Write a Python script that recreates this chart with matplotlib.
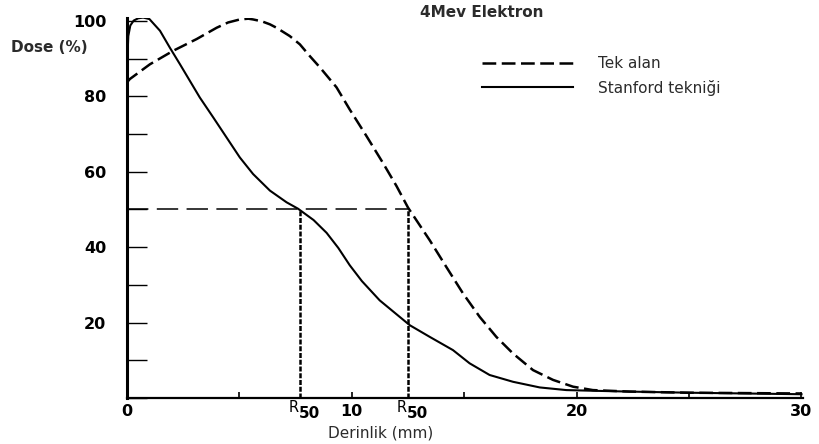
import matplotlib
matplotlib.use("Agg")
import matplotlib.pyplot as plt
import matplotlib.transforms as mtransforms

# depth (mm) / dose (%)
tek_depth = [0, 0.13, 1.02, 2.06, 3.1, 3.99, 4.5, 5.02, 5.4, 5.61, 6.0, 6.36,
             6.65, 7.24, 7.69, 8.13, 8.58, 9.32, 9.91, 10.65, 11.39, 11.99,
             12.5, 13.47, 14.21, 14.95, 15.69, 16.43, 17.17, 18.06, 18.95,
             19.84, 20.72, 22.36, 25, 30]
tek_dose = [83.7, 84.6, 88.5, 92.1, 95.2, 98.2, 99.6, 100.4, 100.6, 100.4,
            99.9, 99.1, 98.2, 96, 93.8, 90.7, 87.7, 82.4, 76.5, 69.5, 62.3,
            56.2, 50.5, 41.8, 34.7, 27.7, 21.5, 16.2, 11.8, 7.4, 4.8, 3.0,
            2.1, 1.7, 1.4, 1.2]

stan_depth = [0, 0.02, 0.06, 0.15, 0.3, 0.5, 0.72, 1.0, 1.47, 1.91, 2.36,
              2.8, 3.24, 3.84, 4.43, 5.02, 5.61, 6.36, 7.1, 7.61, 8.3, 8.88,
              9.4, 9.91, 10.45, 11.24, 12.58, 13.47, 14.5, 15.24, 16.13,
              17.17, 18.36, 19.54, 20.88, 22.36, 25, 30]
stan_dose = [83.7, 90, 96, 98.8, 100.1, 100.7, 100.9, 100.5, 97.4, 92.9,
             88.5, 84.1, 79.7, 74.4, 69.1, 63.8, 59.4, 55.0, 51.9, 50.2, 47.2,
             43.8, 39.8, 35.2, 31.0, 25.9, 19.3, 16.2, 12.7, 9.2, 6.1, 4.3,
             2.8, 2.1, 1.9, 1.7, 1.4, 1.0]

r50_stanford = 7.7
r50_tek = 12.5

fig = plt.figure(figsize=(8.19, 4.44), dpi=100)
ax = fig.add_axes([0.155, 0.1036, 0.825, 0.856])

ax.plot(tek_depth, tek_dose, color='black', lw=1.8, dashes=(5.5, 2.2),
        solid_joinstyle='round', label='Tek alan')
ax.plot(stan_depth, stan_dose, color='black', lw=1.5, solid_joinstyle='round',
        label='Stanford tekniği')

# 50 % construction lines
ax.plot([0, r50_tek], [50, 50], color='black', lw=1.1, dashes=(14, 5.5))
ax.plot([r50_stanford, r50_stanford], [0, 50], color='black', lw=1.8,
        dashes=(2, 0.7))
ax.plot([r50_tek, r50_tek], [0, 50], color='black', lw=1.8, dashes=(2, 0.7))

ax.set_xlim(0, 30.05)
ax.set_ylim(0, 100.8)
for s in ['top', 'right']:
    ax.spines[s].set_visible(False)
ax.spines['left'].set_linewidth(2.2)
ax.spines['bottom'].set_linewidth(1.6)

ax.set_xticks([0, 5, 10, 15, 20, 25, 30])
ax.set_xticklabels(['0', '', '10', '', '20', '', '30'])
ax.set_yticks([0, 10, 20, 30, 40, 50, 60, 70, 80, 90, 100])
ax.set_yticklabels(['', '', '20', '', '40', '', '60', '', '80', '', '100'])
ax.tick_params(axis='y', direction='in', length=14.5, width=1.0, pad=15,
               labelsize=11.5)
ax.tick_params(axis='x', direction='in', length=4.5, width=1.2, pad=4,
               labelsize=11.5)
for lab in ax.get_xticklabels() + ax.get_yticklabels():
    lab.set_fontfamily('DejaVu Sans')
    lab.set_fontweight('bold')

# R50 labels under the axis
trans = mtransforms.blended_transform_factory(ax.transData, ax.transAxes)
for xr in [r50_stanford, r50_tek]:
    ax.text(xr - 0.05, -0.005, 'R', transform=trans, ha='right', va='top',
            fontsize=10.5, family='DejaVu Sans')
    ax.text(xr - 0.05, -0.02, '50', transform=trans, ha='left', va='top',
            fontsize=11, family='DejaVu Sans', fontweight='bold')

txt_color = '#2b2b2b'
fig.text(0.465, 0.025, 'Derinlik (mm)', ha='center', va='center',
         fontsize=11, color=txt_color, family='DejaVu Sans')
fig.text(0.014, 0.894, 'Dose (%)', ha='left', va='center', fontsize=11,
         color=txt_color, family='DejaVu Sans', fontweight='bold')
fig.text(0.513, 0.972, '4Mev Elektron', ha='left', va='center', fontsize=11,
         color=txt_color, family='DejaVu Sans', fontweight='bold')

leg = fig.legend(loc='upper left', bbox_to_anchor=(0.588, 0.873),
                 frameon=False, borderpad=0, borderaxespad=0,
                 handlelength=6.0, handletextpad=1.65, labelspacing=0.55,
                 prop={'family': 'DejaVu Sans', 'size': 11})
for t in leg.get_texts():
    t.set_color(txt_color)

fig.savefig('out.png', dpi=100)
